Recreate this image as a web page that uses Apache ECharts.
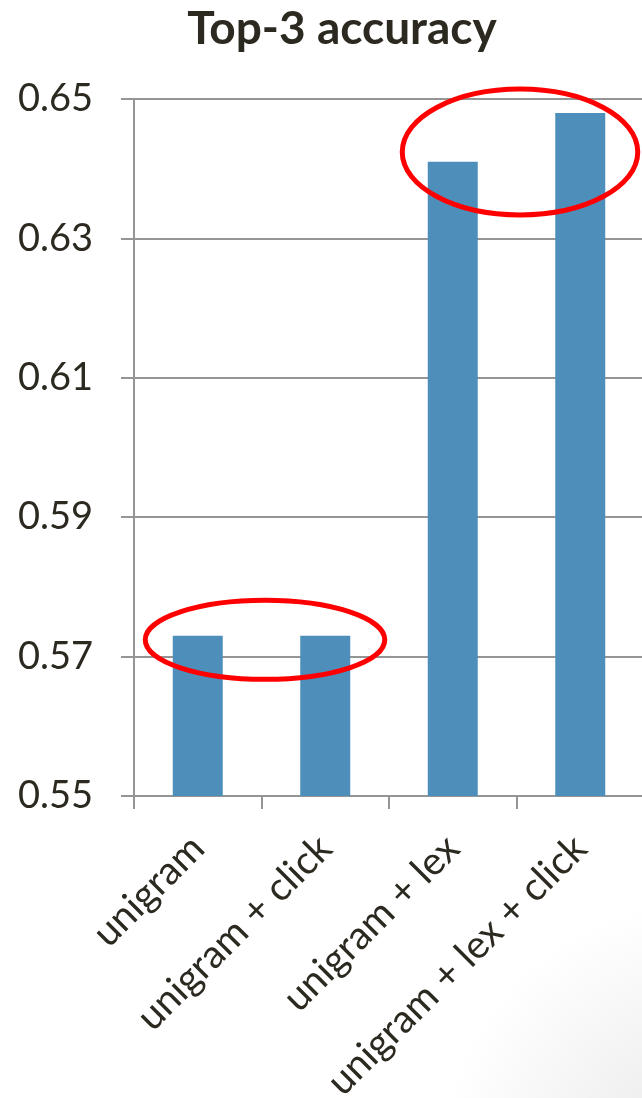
<!DOCTYPE html>
<html>
<head>
<meta charset="utf-8">
<title>Top-3 accuracy</title>
<script src="https://cdn.jsdelivr.net/npm/echarts@6/dist/echarts.min.js"></script>
<style>
  html, body { margin: 0; padding: 0; background: #ffffff; }
  #chart { width: 642px; height: 1098px; }
</style>
</head>
<body>
<div id="chart"></div>
<script>
// Feature sets compared and their top-3 accuracy
const categories = ['unigram', 'unigram + click', 'unigram + lex', 'unigram + lex + click'];
const accuracy = [0.573, 0.573, 0.641, 0.648];

// Value axis range and step
const yMin = 0.55;
const yMax = 0.65;
const yStep = 0.02;

// Highlight rings: pairs of categories circled together, and the value they are centred on
const highlightGroups = [
  { from: 0, to: 1, value: 0.5724 },
  { from: 2, to: 3, value: 0.6424 }
];

const textColor = '#2b2920';
const gridColor = '#959595';
const barColor = '#4d8fba';
const fontFamily = 'Lato, "Noto Sans", sans-serif';

const chart = echarts.init(document.getElementById('chart'), null, { renderer: 'canvas' });

chart.setOption({
  backgroundColor: '#ffffff',
  animation: false,
  title: {
    text: 'Top-3 accuracy',
    left: 337,
    top: 1,
    textAlign: 'center',
    textStyle: { fontFamily: fontFamily, fontSize: 46, fontWeight: 'bold', color: textColor }
  },
  grid: {
    left: 134, top: 99, width: 510, height: 697,
    containLabel: false, outerBoundsMode: 'none'
  },
  xAxis: {
    type: 'category',
    data: categories,
    axisLine: { show: true, lineStyle: { color: gridColor, width: 2 } },
    axisTick: { show: true, length: 13, lineStyle: { color: gridColor, width: 2 } },
    axisLabel: {
      interval: 0, rotate: 45, margin: 46,
      fontFamily: fontFamily, fontSize: 39, color: textColor
    },
    splitLine: { show: false }
  },
  yAxis: {
    type: 'value',
    min: yMin, max: yMax, interval: yStep,
    axisLine: { show: true, lineStyle: { color: gridColor, width: 2 } },
    axisTick: { show: true, length: 13, lineStyle: { color: gridColor, width: 2 } },
    axisLabel: {
      margin: 41,
      fontFamily: fontFamily, fontSize: 38, color: textColor,
      formatter: v => v.toFixed(2)
    },
    splitLine: { show: true, lineStyle: { color: gridColor, width: 2 } }
  },
  series: [{
    type: 'bar',
    data: accuracy,
    barWidth: 50,
    itemStyle: { color: barColor }
  }]
});

// Red rings drawn around each highlighted pair of bars, placed through the axes
function drawHighlights() {
  const rings = highlightGroups.map((g, i) => {
    const x0 = chart.convertToPixel({ xAxisIndex: 0 }, g.from);
    const x1 = chart.convertToPixel({ xAxisIndex: 0 }, g.to);
    const cy = chart.convertToPixel({ yAxisIndex: 0 }, g.value);
    const half = (x1 - x0) / 2;
    return {
      type: 'ellipse',
      z: 100,
      shape: { cx: (x0 + x1) / 2 + 3.5, cy: cy, rx: half + (i === 0 ? 56 : 54), ry: i === 0 ? 39.5 : 63 },
      style: { fill: 'none', stroke: '#ff0000', lineWidth: 5 }
    };
  });
  // faint page shading in the lower right corner
  const shade = {
    type: 'circle',
    z: -10,
    silent: true,
    shape: { cx: 700, cy: 1160, r: 260 },
    style: {
      fill: new echarts.graphic.RadialGradient(0.5, 0.5, 0.5, [
        { offset: 0, color: 'rgba(0,0,0,0.09)' },
        { offset: 1, color: 'rgba(0,0,0,0)' }
      ])
    }
  };
  chart.setOption({ graphic: [shade].concat(rings) });
}
drawHighlights();
</script>
</body>
</html>
